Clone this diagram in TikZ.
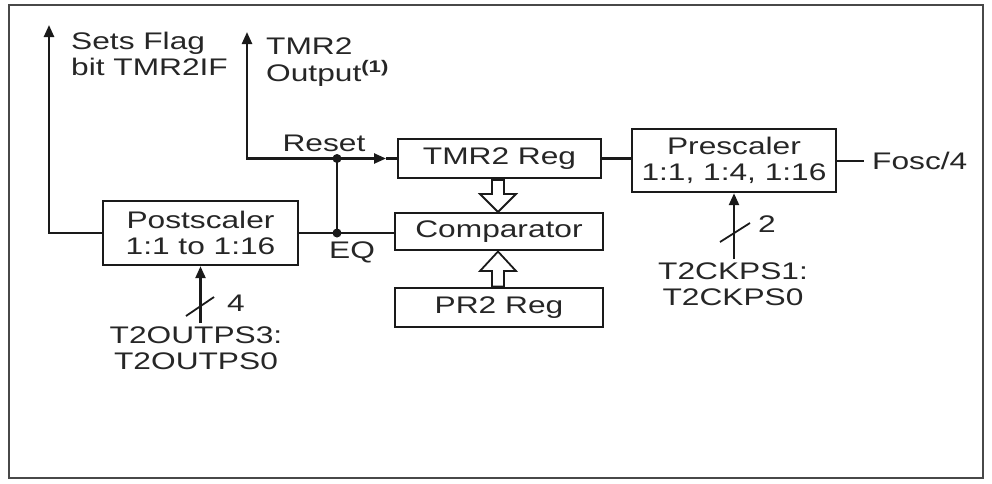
\documentclass[tikz,border=0pt]{standalone}
\usepackage{fontspec}
\setmainfont[FakeStretch=1.32]{Liberation Sans}
\usetikzlibrary{arrows.meta}
\definecolor{ln}{HTML}{1A1A1A}
\definecolor{txt}{HTML}{262626}
\begin{document}
\begin{tikzpicture}[x=1pt,y=-1pt,
  every node/.style={font=\fontsize{24}{26.5}\selectfont, text=txt},
  box/.style={draw=ln, line width=2.4pt, inner sep=0pt, align=center},
  wire/.style={draw=ln, line width=2.4pt},
  arr/.style={wire, -{Triangle[length=12pt,width=10pt]}},
  hollow/.style={draw=ln, line width=1.8pt, fill=white, line join=miter},
  lbl/.style={inner sep=0pt, align=center},
  dot/.style={circle, fill=ln, inner sep=0pt, minimum size=9pt}]
\useasboundingbox (0,0) rectangle (992,483);
\draw[draw=ln!80, line width=2.4pt] (9,5) rectangle (983,478);

% boxes
\node[box, minimum width=203pt, minimum height=39pt] (tmr) at (499.5,158.5) {TMR2 Reg};
\node[box, minimum width=208pt, minimum height=37pt] (cmp) at (499,231.5) {Comparator};
\node[box, minimum width=208pt, minimum height=39pt] (pr2) at (499,307.5) {PR2 Reg};
\node[box, minimum width=204pt, minimum height=63pt] (pre) at (734,160.5) {Prescaler\\1:1, 1:4, 1:16};
\node[box, minimum width=195pt, minimum height=64pt] (post) at (200.5,233) {Postscaler\\1:1 to 1:16};

% labels
\node[lbl, anchor=west, align=left] (flag) at (71,54) {Sets Flag\\bit TMR2IF};
\node[lbl, anchor=west, align=left] (outl) at (266,62) {TMR2\\Output\textsuperscript{\textbf{(1)}}};
\node[lbl] (reset) at (324,143) {Reset};
\node[lbl] (eq) at (352,252) {EQ};
\node[lbl, anchor=west] (fosc) at (872,161) {Fosc/4};
\node[lbl] (tps) at (196,348) {T2OUTPS3:\\T2OUTPS0};
\node[lbl] (cps) at (733,284) {T2CKPS1:\\T2CKPS0};
\node[lbl] (four) at (236,303) {4};
\node[lbl] (two) at (767,224) {2};

% coordinates
\coordinate (flagtop) at (49,25);
\coordinate (outtop) at (247,32);
\coordinate (outcorner) at (247,158.5);
\coordinate (rtip) at (386,158.5);
\node[dot] (rdot) at (337,158.5) {};
\node[dot] (eqdot) at (337,233) {};
\coordinate (foscend) at (864,161);

% connectors
\draw[arr] (post.west) -| (flagtop);
\draw[arr] (rdot.center) -- (outcorner) -- (outtop);
\draw[arr] (rdot.center) -- (rtip);
\draw[wire] (rtip) -- (tmr.west);
\draw[wire] (post.east) -- (post.east -| cmp.west);
\draw[wire] (eqdot.center) -- (rdot.center);
\draw[wire] (tmr.east) -- (tmr.east -| pre.west);
\draw[wire] (pre.east |- foscend) -- (foscend);
\draw[arr, shorten <=3pt] (tps.north -| post.south) -- (post.south);
\draw[arr, shorten <=3pt] (cps.north -| pre.south) -- (pre.south);

% bus slashes
\draw[wire, line width=1.8pt] (186,316) -- (214,297);
\draw[wire, line width=1.8pt] (720,242) -- (750,223);

% hollow arrows
\draw[hollow] (492,180) -- (504,180) -- (504,194) -- (516,194) -- (498,212) -- (480,194) -- (492,194) -- cycle;
\draw[hollow] (492,286.5) -- (504,286.5) -- (504,271) -- (516,271) -- (498,251.5) -- (480,271) -- (492,271) -- cycle;
\end{tikzpicture}
\end{document}
